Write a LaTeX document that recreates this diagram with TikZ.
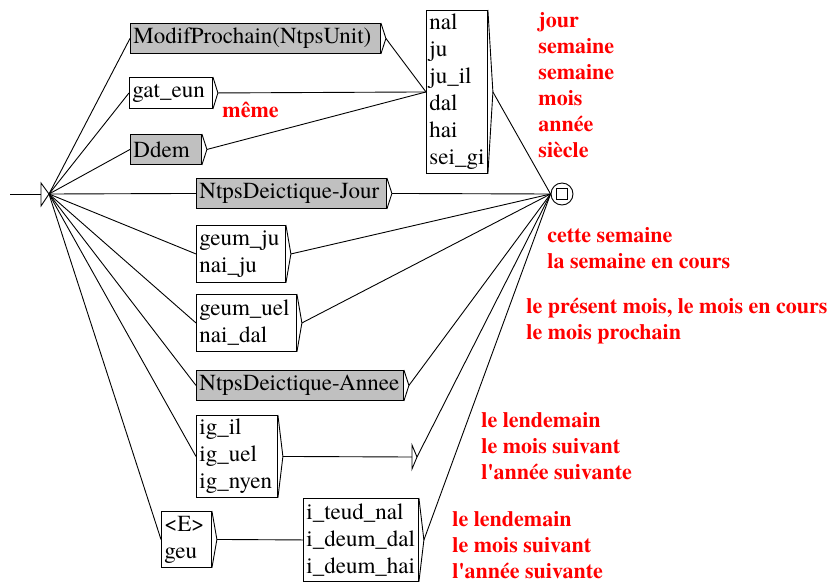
\documentclass[tikz,border=0pt]{standalone}
\usepackage{fontspec}
\IfFontExistsTF{texgyretermes-regular.otf}
  {\newfontfamily\tnr{texgyretermes}[Extension=.otf, UprightFont=*-regular, BoldFont=*-bold]}
  {\newfontfamily\tnr{Latin Modern Roman}}
\usetikzlibrary{calc}
\definecolor{boxgray}{HTML}{C0C0C0}
\definecolor{outred}{HTML}{FF0000}
\begin{document}
\begin{tikzpicture}[x=1pt,y=-1pt,line width=0.9pt,
  bx/.style={draw, rectangle, anchor=north west, inner xsep=3pt, inner ysep=0pt,
    align=left, font=\tnr\fontsize{23}{27}\selectfont},
  gbx/.style={bx, fill=boxgray},
  outtxt/.style={anchor=base west, text=outred, inner sep=0pt,
    font=\tnr\bfseries\fontsize{22}{26}\selectfont}]
\useasboundingbox (0,0) rectangle (835,582);
% boxes
\node[gbx, text width=244pt, minimum height=30pt] (mod) at (130,23) {ModifProchain(NtpsUnit)};
\node[bx, text width=77pt, minimum height=31pt] (gat) at (129,77) {gat\_eun};
\node[gbx, text width=65pt, minimum height=30pt] (ddem) at (130,134) {Ddem};
\node[gbx, text width=184pt, minimum height=30pt] (jour) at (196,178) {NtpsDeictique-Jour};
\node[bx, text width=83pt, minimum height=57pt] (gju) at (196,225) {geum\_ju\\nai\_ju};
\node[bx, text width=94pt, minimum height=57pt] (guel) at (196,294) {geum\_uel\\nai\_dal};
\node[gbx, text width=201pt, minimum height=30pt] (annee) at (196,370) {NtpsDeictique-Annee};
\node[bx, text width=75pt, minimum height=82pt] (ig) at (196,415) {ig\_il\\ig\_uel\\ig\_nyen};
\node[bx, text width=44pt, minimum height=56pt] (eg) at (161,511) {<E>\\geu};
\node[bx, text width=109pt, minimum height=83pt] (itd) at (303,498) {i\_teud\_nal\\i\_deum\_dal\\i\_deum\_hai};
\node[bx, text width=55pt, minimum height=163pt] (nal) at (426,10) {nal\\ju\\ju\_il\\dal\\hai\\sei\_gi};
% brackets
\foreach \n in {mod,gat,ddem,jour,gju,guel,annee,ig,eg,itd,nal}{
  \draw (\n.north east) -- ($(\n.east)+(5,0)$) coordinate (\n-o) -- (\n.south east);
}
% start state
\coordinate (s0) at (10,194);
\coordinate (start) at (49,194);
\coordinate (sin) at (41,194);
\draw (s0) -- (sin);
\draw (41,183) -- (41,206) -- (start) -- cycle;
% final state
\node[draw, circle, minimum size=22pt, inner sep=0pt] (fin) at (562,194) {};
\node[draw, minimum size=11pt, inner sep=0pt] (finsq) at (fin.center) {};
% epsilon output box
\coordinate (epsin) at (412,457);
\coordinate (eps) at (417,457);
\draw (412,445) -- (412,469) -- (eps) -- cycle;
% connectors from start
\foreach \n in {mod,gat,ddem,jour,gju,guel,annee,ig,eg}{
  \draw (start) -- (\n.west);
}
\draw (mod-o) -- (nal.west);
\draw (gat-o) -- (nal.west);
\draw (ddem-o) -- (nal.west);
\foreach \n in {nal,jour,gju,guel,annee,itd}{
  \draw (\n-o) -- (fin.west);
}
\draw (eps) -- (fin.west);
\draw (ig-o) -- (epsin);
\draw (eg-o) -- (itd.west);
% outputs
\node[outtxt] (o1) at (222,117) {même};
\node[outtxt] (o2a) at (538,27) {jour};
\node[outtxt] (o2b) at (538,53) {semaine};
\node[outtxt] (o2c) at (538,79) {semaine};
\node[outtxt] (o2d) at (538,105) {mois};
\node[outtxt] (o2e) at (538,131) {année};
\node[outtxt] (o2f) at (538,157) {siècle};
\node[outtxt] (o3a) at (547,242) {cette semaine};
\node[outtxt] (o3b) at (547,268) {la semaine en cours};
\node[outtxt] (o4a) at (526,313) {le présent mois, le mois en cours};
\node[outtxt] (o4b) at (526,339) {le mois prochain};
\node[outtxt] (o5a) at (481,427) {le lendemain};
\node[outtxt] (o5b) at (481,453) {le mois suivant};
\node[outtxt] (o5c) at (481,479) {l\textquotesingle année suivante};
\node[outtxt] (o6a) at (452,526) {le lendemain};
\node[outtxt] (o6b) at (452,552) {le mois suivant};
\node[outtxt] (o6c) at (452,578) {l\textquotesingle année suivante};
\end{tikzpicture}
\end{document}
